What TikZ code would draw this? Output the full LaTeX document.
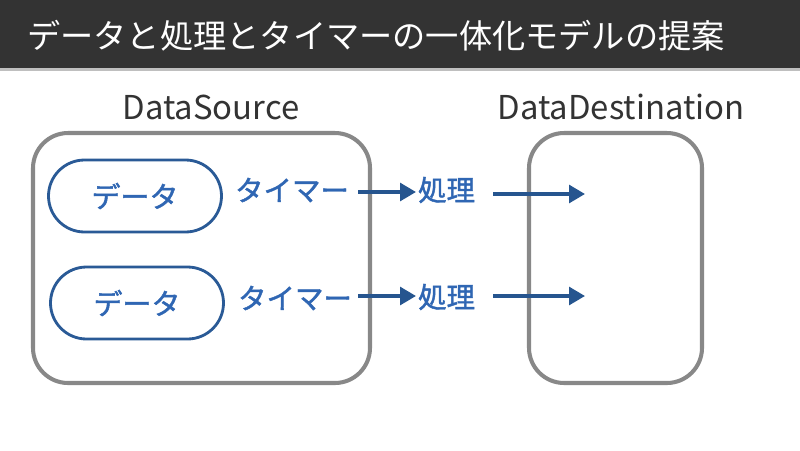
\documentclass[tikz,border=0pt]{standalone}
\usepackage{fontspec}
\setmainfont{Noto Sans CJK JP}
\newfontfamily\jpbold[FakeBold=1.5]{Noto Sans CJK JP}
\usetikzlibrary{arrows.meta}
\definecolor{barbg}{HTML}{333333}
\definecolor{boxgray}{HTML}{888888}
\definecolor{pillblue}{HTML}{2A5A96}
\definecolor{txtblue}{HTML}{2F66B3}
\definecolor{arrblue}{HTML}{26558F}
\definecolor{lbl}{HTML}{333333}
\tikzset{
  container/.style={draw=boxgray, line width=2.3pt, rounded corners=20pt},
  pill/.style={draw=pillblue, line width=1.6pt, rounded corners=20.5pt, minimum width=173*0.02cm, minimum height=72*0.02cm, text=txtblue, font=\jpbold\fontsize{16.5}{19}\selectfont},
  bluetxt/.style={text=txtblue, font=\jpbold\fontsize{16.2}{19}\selectfont, inner sep=1pt},
  flow/.style={draw=arrblue, line width=2pt, -{Triangle[length=9pt,width=10pt]}},
  boxlabel/.style={text=lbl, font=\fontsize{18.7}{22}\selectfont},
}
\begin{document}
\begin{tikzpicture}[x=0.02cm, y=-0.02cm]
\useasboundingbox (0,0) rectangle (800,450);
\fill[white] (0,0) rectangle (800,450);
\fill[black!25] (0,66) rectangle (800,71);
\fill[barbg] (0,0) rectangle (800,68);
\node[anchor=west, text=white, font=\fontsize{18.9}{22}\selectfont, inner sep=0] (title) at (27,36) {データと処理とタイマーの一体化モデルの提案};

\draw[container] (33,133) rectangle (370,383);
\draw[container] (529,133) rectangle (702,383);
\node[boxlabel] (srclbl) at (211,107) {DataSource};
\node[boxlabel] (dstlbl) at (621,107) {DataDestination};

\node[pill] (d1) at (135,196) {データ};
\node[pill] (d2) at (137,303) {データ};

\node[bluetxt, anchor=west] (t1) at (233,190) {タイマー};
\node[bluetxt, anchor=west] (t2) at (236,298) {タイマー};
\node[bluetxt, anchor=west] (p1) at (416,190) {処理};
\node[bluetxt, anchor=west] (p2) at (416,297) {処理};

\coordinate (e1) at (585,194);
\coordinate (e2) at (585,296);

\draw[flow] (358,192) -- (p1.west |- 0,192);
\draw[flow] (358,296) -- (p2.west |- 0,296);
\draw[flow] (493,194) -- (e1);
\draw[flow] (493,296) -- (e2);
\end{tikzpicture}
\end{document}
